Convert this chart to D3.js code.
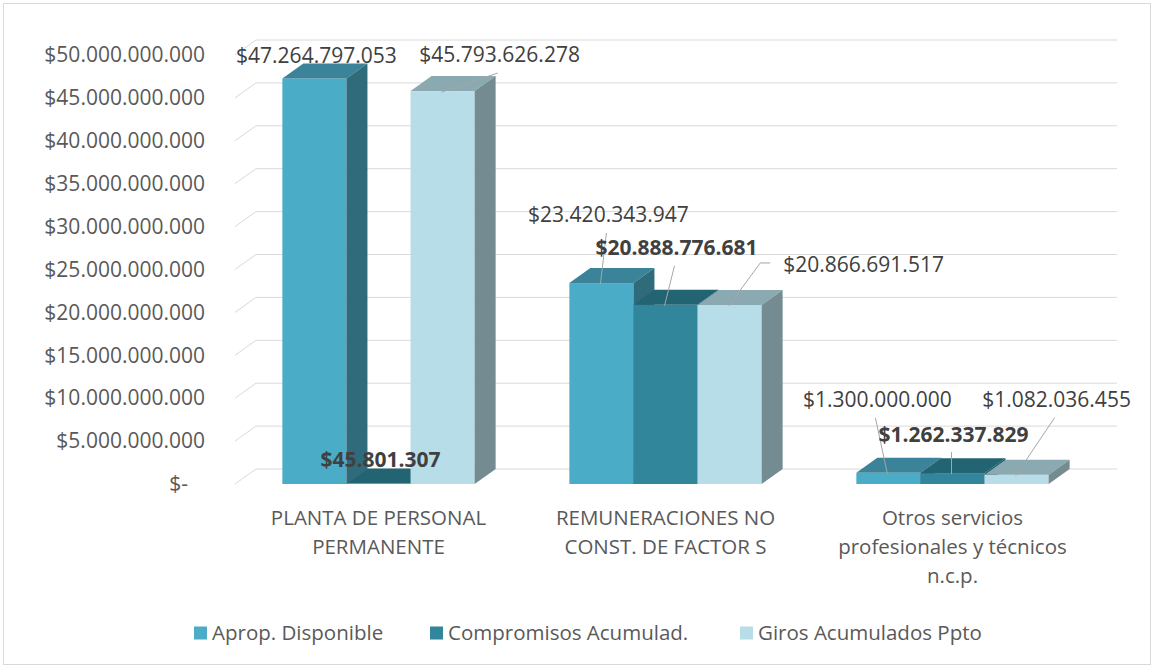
<!DOCTYPE html>
<html>
<head>
<meta charset="utf-8">
<script src="https://cdn.jsdelivr.net/npm/d3@7"></script>
<style>
  body { margin: 0; background: #fff; }
  text { font-family: "Open Sans", "Noto Sans", sans-serif; }
</style>
</head>
<body>
<div id="chart"></div>
<script>
// data
var categories = [["PLANTA DE PERSONAL", "PERMANENTE"],
                  ["REMUNERACIONES NO", "CONST. DE FACTOR S"],
                  ["Otros servicios", "profesionales y técnicos", "n.c.p."]];
var seriesNames = ["Aprop. Disponible", "Compromisos Acumulad.", "Giros Acumulados Ppto"];
var aprop = [47264797053, 23420343947, 1300000000];
var compromisos = [45801307, 20888776681, 1262337829];
var giros = [45793626278, 20866691517, 1082036455];
var yTicks = [0, 5e9, 10e9, 15e9, 20e9, 25e9, 30e9, 35e9, 40e9, 45e9, 50e9];

// look
var colors = [
  {front: "#4aacc6", top: "#3a8399", side: "#2f6b7a"},
  {front: "#31869c", top: "#236472", side: "#1f5866"},
  {front: "#b7dee8", top: "#8aa9b0", side: "#748c91"}
];
var boldSeries = [false, true, false];
// label offset from the top-centre of each bar [group][series] -> [dx, dy, leader]
var labelLayout = [
  [[2, -23, "none"], [2, -24, "none"], [57, -36, "line"]],
  [[7, -68, "line"], [11, -57, "line"], [134, -40, "elbow"]],
  [[-11, -73, "line"], [1, -39, "line"], [40, -75, "line"]]
];

var width = 1154, height = 668;
var depthX = 21, depthY = -15;

var svg = d3.select("#chart").append("svg")
    .attr("width", width)
    .attr("height", height);

// chart border
svg.append("rect")
    .attr("x", 3.5).attr("y", 3.5)
    .attr("width", width - 7).attr("height", height - 7)
    .attr("fill", "#fff")
    .attr("stroke", "#d9d9d9");

var x = d3.scaleBand()
    .domain(d3.range(categories.length))
    .range([235, 1096])
    .paddingInner(0.33)
    .paddingOuter(0.165);

var xSub = d3.scaleBand()
    .domain(d3.range(seriesNames.length))
    .range([0, x.bandwidth()]);

var y = d3.scaleLinear()
    .domain([0, 50e9])
    .range([484, 55]);

var fmt = function(v) {
  if (v === 0) return "$-";
  return "$" + d3.format(",")(v).replace(/,/g, ".");
};

// back wall gridlines
svg.append("g").selectAll("path")
  .data(yTicks)
  .enter().append("path")
    .attr("d", function(d) {
      var yy = y(d);
      return "M" + 235 + "," + yy + "L" + (235 + depthX) + "," + (yy + depthY) + "L" + (1096 + depthX) + "," + (yy + depthY);
    })
    .attr("fill", "none")
    .attr("stroke", "#d9d9d9")
    .attr("stroke-width", 1);

// y axis
var yAxis = svg.append("g")
    .attr("transform", "translate(205,0)")
    .call(d3.axisLeft(y).tickValues(yTicks).tickFormat(fmt).tickSize(0).tickPadding(0));
yAxis.select(".domain").remove();
yAxis.selectAll("text")
    .attr("fill", "#595959")
    .style("font-size", "21px")
    .attr("dx", function(d) { return d === 0 ? -17 : 0; });

// bars
var values = [aprop, compromisos, giros];
var barsG = svg.append("g");
categories.forEach(function(c, gi) {
  values.forEach(function(series, si) {
    var x0 = x(gi) + xSub(si), w = xSub.bandwidth();
    var yt = y(series[gi]), yb = y(0);
    var g = barsG.append("g");
    g.append("rect")
      .attr("x", x0).attr("y", yt)
      .attr("width", w).attr("height", yb - yt)
      .attr("fill", colors[si].front);
    g.append("path")
      .attr("d", "M" + x0 + "," + yt + "L" + (x0 + w) + "," + yt + "L" + (x0 + w + depthX) + "," + (yt + depthY) + "L" + (x0 + depthX) + "," + (yt + depthY) + "Z")
      .attr("fill", colors[si].top);
    g.append("path")
      .attr("d", "M" + (x0 + w) + "," + yt + "L" + (x0 + w + depthX) + "," + (yt + depthY) + "L" + (x0 + w + depthX) + "," + (yb + depthY) + "L" + (x0 + w) + "," + yb + "Z")
      .attr("fill", colors[si].side);
  });
});

// data labels with leader lines
var labelsG = svg.append("g");
categories.forEach(function(c, gi) {
  values.forEach(function(series, si) {
    var cx = x(gi) + xSub(si) + xSub.bandwidth() / 2;
    var yt = y(series[gi]);
    var lay = labelLayout[gi][si];
    var lx = cx + lay[0], ly = yt + lay[1];
    var txt = labelsG.append("text")
      .attr("x", lx).attr("y", ly)
      .attr("dy", "0.35em")
      .attr("text-anchor", "middle")
      .attr("fill", "#404040")
      .style("font-size", "21px")
      .style("font-weight", boldSeries[si] ? "bold" : "normal")
      .text(fmt(series[gi]));
    if (lay[2] === "line") {
      labelsG.append("path")
        .attr("d", "M" + (cx - 1) + "," + (yt + 1) + "L" + (lx - 2) + "," + (ly + 18))
        .attr("stroke", "#a6a6a6").attr("fill", "none");
    } else if (lay[2] === "elbow") {
      var left = lx - txt.node().getComputedTextLength() / 2;
      labelsG.append("path")
        .attr("d", "M" + (cx - 1) + "," + (yt + 1) + "L" + (left - 23) + "," + (ly - 2) + "L" + (left - 13) + "," + (ly - 2))
        .attr("stroke", "#a6a6a6").attr("fill", "none");
    }
  });
});

// category labels
var catG = svg.append("g");
categories.forEach(function(lines, gi) {
  var t = catG.append("text")
    .attr("x", x(gi) + x.bandwidth() / 2)
    .attr("y", 518)
    .attr("text-anchor", "middle")
    .attr("fill", "#595959")
    .style("font-size", "20.5px");
  lines.forEach(function(l, i) {
    t.append("tspan")
      .attr("x", x(gi) + x.bandwidth() / 2)
      .attr("dy", i === 0 ? "0.35em" : "29px")
      .text(l);
  });
});

// legend
var legendX = [194, 430, 740];
var legend = svg.append("g").selectAll("g")
  .data(seriesNames)
  .enter().append("g")
    .attr("transform", function(d, i) { return "translate(" + legendX[i] + ",633)"; });
legend.append("rect")
  .attr("x", 0).attr("y", -6.5)
  .attr("width", 13).attr("height", 13)
  .attr("fill", function(d, i) { return colors[i].front; });
legend.append("text")
  .attr("x", 18).attr("dy", "0.35em")
  .attr("fill", "#595959")
  .style("font-size", "20.5px")
  .text(function(d) { return d; });
</script>
</body>
</html>
